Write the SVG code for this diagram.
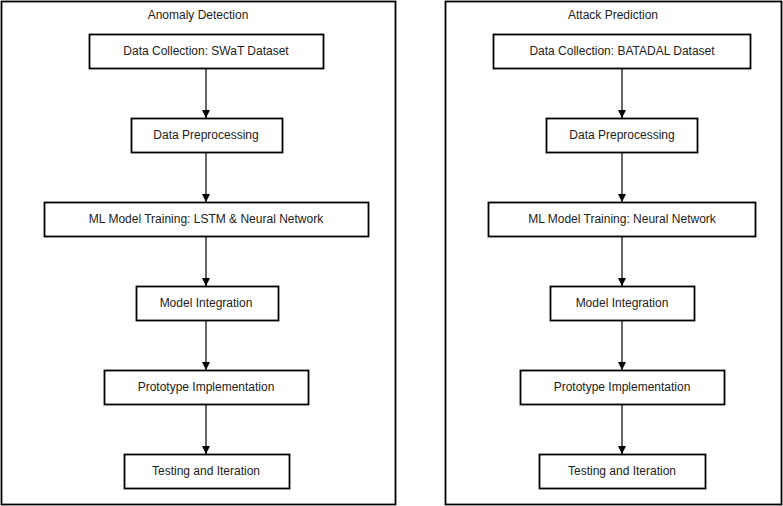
<svg xmlns="http://www.w3.org/2000/svg" width="783" height="506" viewBox="0 0 783 506">
<defs>
<style>
.frame{fill:#fff;stroke:#000;stroke-width:1.8}
.box{fill:#fff;stroke:#000;stroke-width:1.8}
.t{font-family:"Liberation Sans",Arial,sans-serif;font-size:12px;fill:#222;text-anchor:middle}
.c{stroke:#000;stroke-width:1.2;fill:none;marker-end:url(#ah)}
</style>
<marker id="ah" viewBox="0 0 10 10" refX="10" refY="5" markerWidth="8" markerHeight="8" markerUnits="userSpaceOnUse" orient="auto">
<path d="M0,0 L10,5 L0,10 Z" fill="#000"/>
</marker>
</defs>
<rect width="783" height="506" fill="#fff"/>
<g id="anomaly-detection">
<rect class="frame" x="1.5" y="1.5" width="394" height="503"/>
<text class="t" x="198" y="19">Anomaly Detection</text>
</g>
<g id="attack-prediction">
<rect class="frame" x="445.5" y="1.5" width="336" height="503"/>
<text class="t" x="613" y="19">Attack Prediction</text>
</g>
<g id="connectors">
<line class="c" x1="206" y1="69" x2="206" y2="118"/>
<line class="c" x1="206" y1="153" x2="206" y2="202"/>
<line class="c" x1="206" y1="237" x2="206" y2="286"/>
<line class="c" x1="206" y1="321" x2="206" y2="370"/>
<line class="c" x1="206" y1="405" x2="206" y2="454"/>
<line class="c" x1="622" y1="69" x2="622" y2="118"/>
<line class="c" x1="622" y1="153" x2="622" y2="202"/>
<line class="c" x1="622" y1="237" x2="622" y2="286"/>
<line class="c" x1="622" y1="321" x2="622" y2="370"/>
<line class="c" x1="622" y1="405" x2="622" y2="454"/>
</g>
<g id="l-collection"><rect class="box" x="89.5" y="34.5" width="234" height="34"/><text class="t" x="206" y="55">Data Collection: SWaT Dataset</text></g>
<g id="l-preprocessing"><rect class="box" x="131.5" y="118.5" width="151" height="34"/><text class="t" x="206" y="139">Data Preprocessing</text></g>
<g id="l-training"><rect class="box" x="44.5" y="202.5" width="324" height="34"/><text class="t" x="206" y="223">ML Model Training: LSTM &amp; Neural Network</text></g>
<g id="l-integration"><rect class="box" x="136.5" y="286.5" width="142" height="34"/><text class="t" x="206" y="307">Model Integration</text></g>
<g id="l-prototype"><rect class="box" x="104.5" y="370.5" width="204" height="34"/><text class="t" x="206" y="391">Prototype Implementation</text></g>
<g id="l-testing"><rect class="box" x="124.5" y="454.5" width="165" height="34"/><text class="t" x="206" y="475">Testing and Iteration</text></g>
<g id="r-collection"><rect class="box" x="493.5" y="34.5" width="257" height="34"/><text class="t" x="622" y="55">Data Collection: BATADAL Dataset</text></g>
<g id="r-preprocessing"><rect class="box" x="546.5" y="118.5" width="151" height="34"/><text class="t" x="622" y="139">Data Preprocessing</text></g>
<g id="r-training"><rect class="box" x="488.5" y="202.5" width="267" height="34"/><text class="t" x="622" y="223">ML Model Training: Neural Network</text></g>
<g id="r-integration"><rect class="box" x="550.5" y="286.5" width="144" height="34"/><text class="t" x="622" y="307">Model Integration</text></g>
<g id="r-prototype"><rect class="box" x="520.5" y="370.5" width="204" height="34"/><text class="t" x="622" y="391">Prototype Implementation</text></g>
<g id="r-testing"><rect class="box" x="539.5" y="454.5" width="166" height="34"/><text class="t" x="622" y="475">Testing and Iteration</text></g>
</svg>
